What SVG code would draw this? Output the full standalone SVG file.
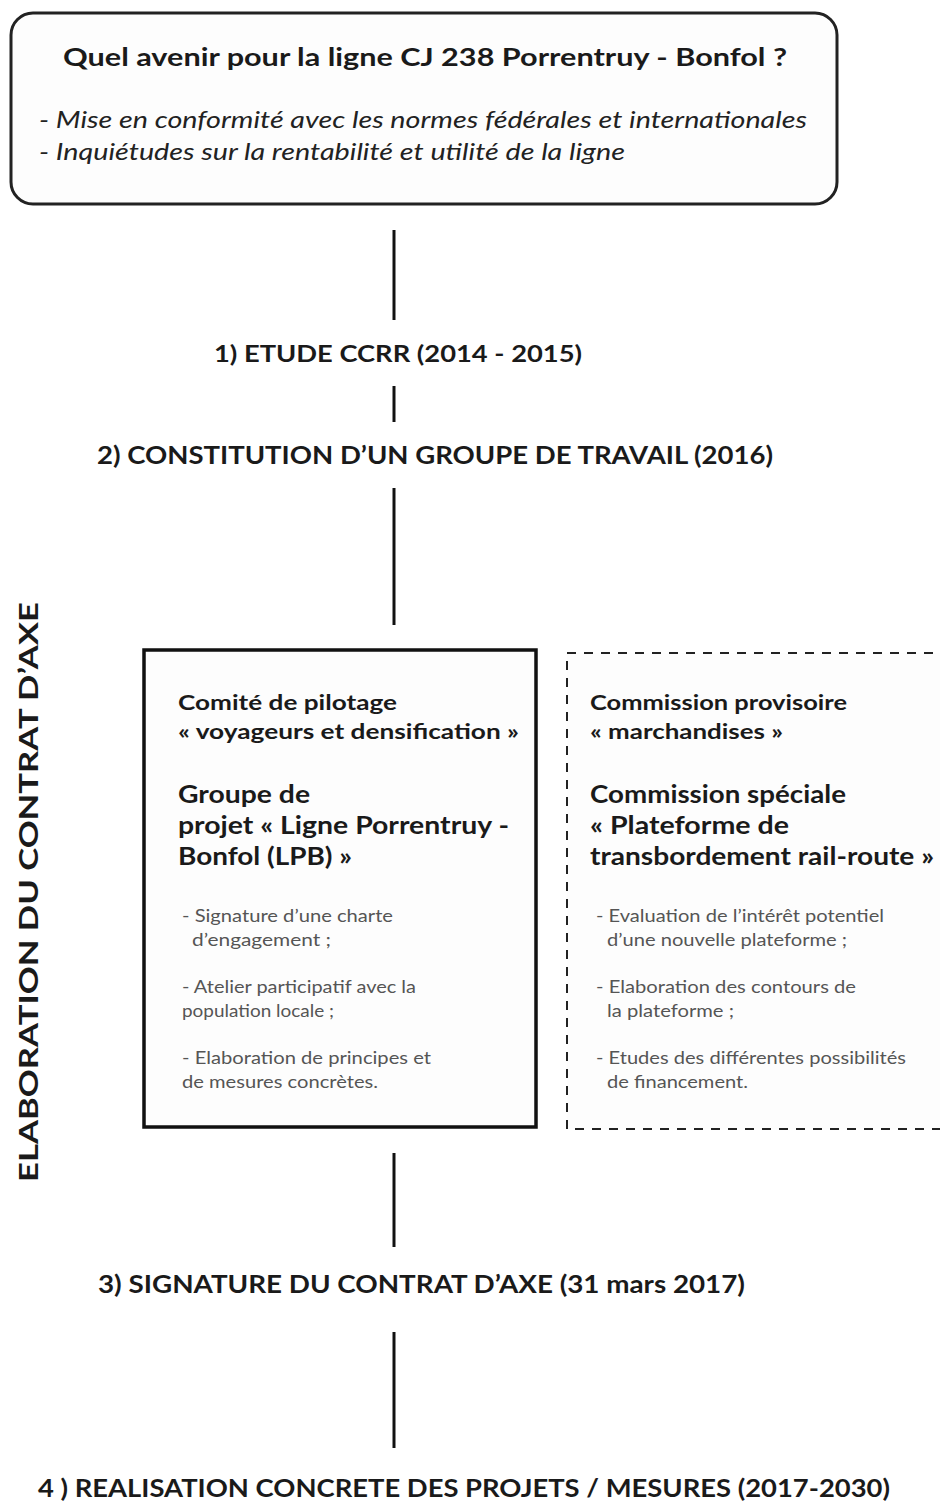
<svg xmlns="http://www.w3.org/2000/svg" width="940" height="1501" viewBox="0 0 940 1501">
<style>
.b{font-family:Lato,"Open Sans","Liberation Sans",sans-serif;font-weight:bold;fill:#1a1a1a}
.it{font-family:Lato,"Open Sans","Liberation Sans",sans-serif;font-style:italic;fill:#222;font-size:23px}
.s{font-family:Lato,"Open Sans","Liberation Sans",sans-serif;fill:#555;font-size:17px}
.conn{stroke:#111;stroke-width:3;fill:none}
</style>
<rect width="940" height="1501" fill="#ffffff"/>
<g id="connectors">
<line class="conn" x1="394" y1="230" x2="394" y2="320"/>
<line class="conn" x1="394" y1="386" x2="394" y2="422"/>
<line class="conn" x1="394" y1="488" x2="394" y2="625"/>
<line class="conn" x1="394" y1="1153" x2="394" y2="1247"/>
<line class="conn" x1="394" y1="1332" x2="394" y2="1448"/>
</g>
<g id="question">
<rect x="11" y="13" width="826" height="191" rx="22" fill="#fdfdfd" stroke="#222" stroke-width="3"/>
<text class="b" x="425" y="66" font-size="25" text-anchor="middle" textLength="724" lengthAdjust="spacingAndGlyphs">Quel avenir pour la ligne CJ 238 Porrentruy - Bonfol ?</text>
<text class="it" x="39" y="128" textLength="768" lengthAdjust="spacingAndGlyphs">- Mise en conformité avec les normes fédérales et internationales</text>
<text class="it" x="39" y="160" textLength="586" lengthAdjust="spacingAndGlyphs">- Inquiétudes sur la rentabilité et utilité de la ligne</text>
</g>
<g id="step1">
<text class="b" x="214" y="362" font-size="23" textLength="368" lengthAdjust="spacingAndGlyphs">1) ETUDE CCRR (2014 - 2015)</text>
</g>
<g id="step2">
<text class="b" x="97" y="464" font-size="24" textLength="676" lengthAdjust="spacingAndGlyphs">2) CONSTITUTION D’UN GROUPE DE TRAVAIL (2016)</text>
</g>
<g id="phase-label">
<text class="b" font-size="27" transform="translate(38,1182) rotate(-90)" textLength="580" lengthAdjust="spacingAndGlyphs">ELABORATION DU CONTRAT D’AXE</text>
</g>
<g id="voyageurs">
<rect x="144" y="650" width="392" height="477" fill="#fdfdfd" stroke="#111" stroke-width="3.5"/>
<text class="b" x="178" y="710" font-size="21" textLength="219" lengthAdjust="spacingAndGlyphs">Comité de pilotage</text>
<text class="b" x="178" y="739" font-size="21" textLength="341" lengthAdjust="spacingAndGlyphs">« voyageurs et densification »</text>
<text class="b" x="178" y="803" font-size="24" textLength="132" lengthAdjust="spacingAndGlyphs">Groupe de</text>
<text class="b" x="178" y="834" font-size="24" textLength="331" lengthAdjust="spacingAndGlyphs">projet « Ligne Porrentruy -</text>
<text class="b" x="178" y="865" font-size="24" textLength="174" lengthAdjust="spacingAndGlyphs">Bonfol (LPB) »</text>
<text class="s" x="182" y="922" textLength="211" lengthAdjust="spacingAndGlyphs">- Signature d’une charte</text>
<text class="s" x="192" y="946" textLength="139" lengthAdjust="spacingAndGlyphs">d’engagement ;</text>
<text class="s" x="182" y="993" textLength="234" lengthAdjust="spacingAndGlyphs">- Atelier participatif avec la</text>
<text class="s" x="182" y="1017" textLength="152" lengthAdjust="spacingAndGlyphs">population locale ;</text>
<text class="s" x="182" y="1064" textLength="249" lengthAdjust="spacingAndGlyphs">- Elaboration de principes et</text>
<text class="s" x="182" y="1088" textLength="196" lengthAdjust="spacingAndGlyphs">de mesures concrètes.</text>
</g>
<g id="marchandises">
<path d="M950 653 H567 V1129 H950" fill="#fdfdfd" stroke="#222" stroke-width="2" stroke-dasharray="9,8"/>
<text class="b" x="590" y="710" font-size="21" textLength="257" lengthAdjust="spacingAndGlyphs">Commission provisoire</text>
<text class="b" x="590" y="739" font-size="21" textLength="193" lengthAdjust="spacingAndGlyphs">« marchandises »</text>
<text class="b" x="590" y="803" font-size="24" textLength="256" lengthAdjust="spacingAndGlyphs">Commission spéciale</text>
<text class="b" x="590" y="834" font-size="24" textLength="199" lengthAdjust="spacingAndGlyphs">« Plateforme de</text>
<text class="b" x="590" y="865" font-size="24" textLength="344" lengthAdjust="spacingAndGlyphs">transbordement rail-route »</text>
<text class="s" x="596" y="922" textLength="288" lengthAdjust="spacingAndGlyphs">- Evaluation de l’intérêt potentiel</text>
<text class="s" x="607" y="946" textLength="240" lengthAdjust="spacingAndGlyphs">d’une nouvelle plateforme ;</text>
<text class="s" x="596" y="993" textLength="260" lengthAdjust="spacingAndGlyphs">- Elaboration des contours de</text>
<text class="s" x="607" y="1017" textLength="127" lengthAdjust="spacingAndGlyphs">la plateforme ;</text>
<text class="s" x="596" y="1064" textLength="310" lengthAdjust="spacingAndGlyphs">- Etudes des différentes possibilités</text>
<text class="s" x="607" y="1088" textLength="141" lengthAdjust="spacingAndGlyphs">de financement.</text>
</g>
<g id="step3">
<text class="b" x="98" y="1293" font-size="24" textLength="647" lengthAdjust="spacingAndGlyphs">3) SIGNATURE DU CONTRAT D’AXE (31 mars 2017)</text>
</g>
<g id="step4">
<text class="b" x="38" y="1497" font-size="24" textLength="852" lengthAdjust="spacingAndGlyphs">4 ) REALISATION CONCRETE DES PROJETS / MESURES (2017-2030)</text>
</g>
</svg>
